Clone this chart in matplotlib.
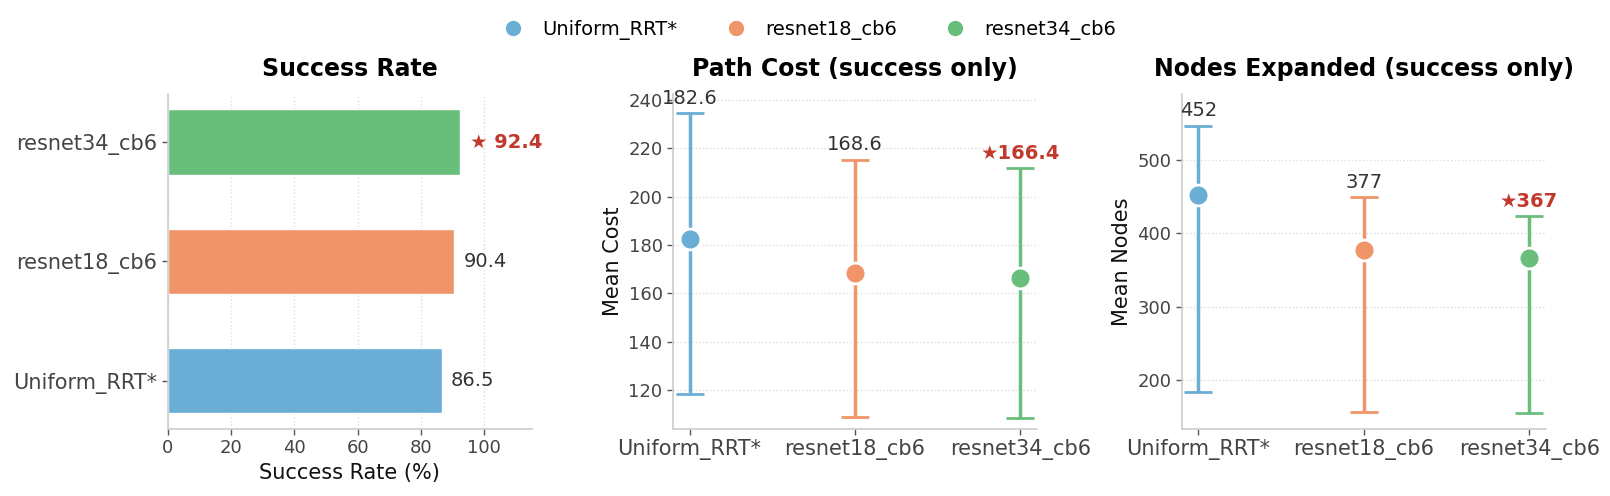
import numpy as np
import matplotlib
matplotlib.use("Agg")
import matplotlib.pyplot as plt
from matplotlib.lines import Line2D

plt.rcParams['font.family'] = ['DejaVu Sans']

# ---- data ----
methods = ["Uniform_RRT*", "resnet18_cb6", "resnet34_cb6"]
colors = ["#6AAED6", "#F0956A", "#6ABE7B"]
success_rate = [86.5, 90.4, 92.4]
cost_mean = [182.6, 168.6, 166.4]
cost_low = [118.3, 108.7, 108.3]
cost_high = [234.5, 215.2, 211.7]
nodes_mean = [452, 377, 367]
nodes_low = [184, 156, 155]
nodes_high = [547, 449, 423]

RED = "#C0392B"
TXT = "#444444"
SPINE = "#CCCCCC"

fig = plt.figure(figsize=(16.1, 4.96), dpi=100)
W, H = 0.2261, 0.6748
B = 0.1357
ax1 = fig.add_axes([0.1042, B, W, H])
ax2 = fig.add_axes([0.4180, B, W, H])
ax3 = fig.add_axes([0.7340, B, W, H])


def style(ax, grid_axis):
    for s in ["top", "right"]:
        ax.spines[s].set_visible(False)
    for s in ["left", "bottom"]:
        ax.spines[s].set_color(SPINE)
        ax.spines[s].set_linewidth(1.2)
    ax.tick_params(colors=TXT, labelsize=13, length=4, width=1)
    ax.tick_params(axis='both', which='both', color="#555555")
    ax.grid(True, axis=grid_axis, linestyle=":", color="#DDDDDD", linewidth=1)
    ax.set_axisbelow(True)


# ---- Success Rate ----
y = np.arange(len(methods))
best_sr = int(np.argmax(success_rate))
ax1.barh(y, success_rate, height=0.55, color=colors, edgecolor="white", linewidth=1)
style(ax1, "x")
ax1.set_yticks(y)
ax1.set_yticklabels(methods, fontsize=15)
ax1.set_xlim(0, 115)
ax1.set_xticks([0, 20, 40, 60, 80, 100])
ax1.set_xlabel("Success Rate (%)", fontsize=15, color="#111111")
ax1.set_title("Success Rate", fontsize=17, fontweight="bold", pad=13)
for i, v in enumerate(success_rate):
    if i == best_sr:
        ax1.text(v + 3, i, f"\u2605 {v:.1f}", va="center", ha="left",
                 fontsize=14, color=RED, fontweight="bold")
    else:
        ax1.text(v + 3, i, f"{v:.1f}", va="center", ha="left",
                 fontsize=14, color="#333333")


def errplot(ax, means, lows, highs, fmt, ylabel, title, ylim):
    x = np.arange(len(methods))
    best = int(np.argmin(means))
    for i in range(len(methods)):
        ax.errorbar([x[i]], [means[i]],
                    yerr=[[means[i] - lows[i]], [highs[i] - means[i]]],
                    fmt="o", color=colors[i], ecolor=colors[i],
                    elinewidth=2.5, capsize=10, capthick=2.5,
                    markersize=15, markeredgecolor="white", markeredgewidth=2,
                    zorder=3)
        lab = fmt(means[i])
        if i == best:
            ax.annotate("\u2605" + lab, (x[i], highs[i]), xytext=(0, 4),
                        textcoords="offset points", ha="center", va="bottom",
                        fontsize=14, color=RED, fontweight="bold")
        else:
            ax.annotate(lab, (x[i], highs[i]), xytext=(0, 4),
                        textcoords="offset points", ha="center", va="bottom",
                        fontsize=14, color="#333333")
    style(ax, "y")
    ax.set_xticks(x)
    ax.set_xticklabels(methods, fontsize=15)
    ax.set_xlim(-0.1, 2.1)
    ax.set_ylim(*ylim)
    ax.set_ylabel(ylabel, fontsize=15, color="#111111")
    ax.set_title(title, fontsize=17, fontweight="bold", pad=13)


errplot(ax2, cost_mean, cost_low, cost_high, lambda v: f"{v:.1f}",
        "Mean Cost", "Path Cost (success only)", (104, 242.5))
errplot(ax3, nodes_mean, nodes_low, nodes_high, lambda v: f"{v:.0f}",
        "Mean Nodes", "Nodes Expanded (success only)", (133.6, 590))

handles = [Line2D([0], [0], marker="o", linestyle="none", color=c,
                  markersize=10) for c in colors]
fig.legend(handles, methods, loc="upper center", bbox_to_anchor=(0.5, 0.995),
           ncol=3, frameon=False, fontsize=14, handletextpad=0.5,
           columnspacing=2.0)

fig.savefig("out.png", dpi=100)
